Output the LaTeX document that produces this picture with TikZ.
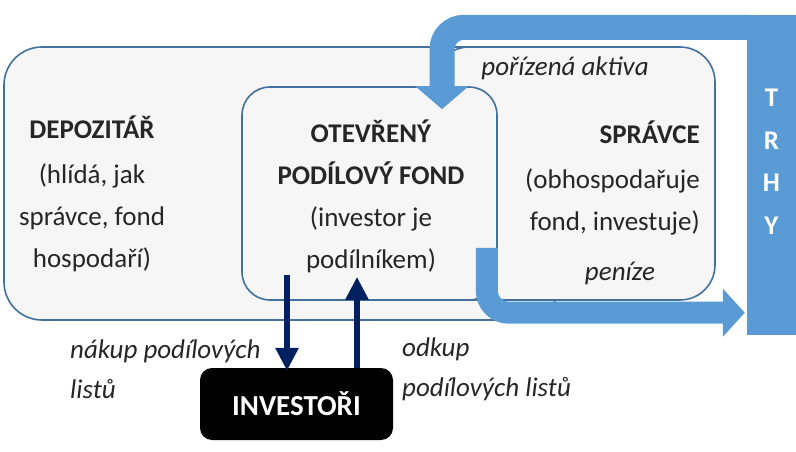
\documentclass[tikz,border=0pt]{standalone}
\usepackage{fontspec}
\setmainfont{Carlito}
\usetikzlibrary{arrows.meta,positioning,calc}
\definecolor{sky}{RGB}{91,155,213}
\definecolor{steel}{RGB}{65,113,156}
\definecolor{paper}{RGB}{246,246,246}
\definecolor{navy}{RGB}{0,32,96}
\definecolor{ink}{RGB}{38,38,38}
\tikzset{
  panel/.style={draw=steel,fill=paper,line width=1.6pt,rounded corners=#1,inner sep=0pt},
  panel/.default=35pt,
  txt/.style={font=\fontsize{27}{42}\selectfont,text=ink,align=center,inner sep=0pt},
  note/.style={font=\fontsize{27}{40}\selectfont\itshape,text=ink,align=left,inner sep=0pt},
  band/.style={draw=sky,line width=#1,rounded corners=22pt},
  trade/.style={draw=navy,line width=6pt,-{Triangle[width=22pt,length=23pt]}},
}
\begin{document}
\begin{tikzpicture}[x=1pt,y=1pt]
  \useasboundingbox (0,0) rectangle (796,451);
  \node[panel=38pt,minimum width=556pt,minimum height=273pt] (depozitar) at (282,267.5) {};
  \node[panel,minimum width=281pt,minimum height=253pt] (spravce) at (574.5,277.5) {};
  \node[panel=28pt,minimum width=255pt,minimum height=213pt] (fond) at (369.5,257.5) {};
  \node[fill=sky,minimum width=49pt,minimum height=320pt,inner sep=0pt] (trhy) at (771.5,276) {};
  \node[fill=black,rounded corners=12pt,minimum width=193pt,minimum height=72pt,text=white,
    font=\fontsize{29}{35}\selectfont\bfseries] (investori) at (296.5,47) {INVESTOŘI};

  \node[txt] (deptext) at (92,257.5) {\textbf{DEPOZITÁŘ}\\[3pt](hlídá, jak\\správce, fond\\hospodaří)};
  \node[txt] (fondtext) at (371,255) {\textbf{OTEVŘENÝ}\\\textbf{PODÍLOVÝ FOND}\\(investor je\\podílníkem)};
  \node[txt,align=right,anchor=east] (spravcetext) at (700,273) {\textbf{SPRÁVCE}\\[3pt](obhospodařuje\\fond, investuje)};
  \node[txt,text=white,font=\fontsize{27}{42.5}\selectfont\bfseries] (trhytext) at ($(trhy.center)+(0,13.5)$) {T\\R\\H\\Y};

  \node[note,align=center] (aktiva) at (565,383) {pořízená aktiva};
  \node[note,align=center] (penize) at (620,178) {peníze};
  \node[note,anchor=west] (nakup) at (70,82) {nákup podílových\\listů};
  \node[note,anchor=west] (odkup) at (402,82) {odkup\\podílových listů};

  \draw[band=25pt,-{Triangle[width=52pt,length=23pt]}] ($(trhy.north west)+(1,-12.5)$) -| ($(fond.north)+(72.5,-23)$);
  \draw[band=22pt,-{Triangle[width=47pt,length=22pt]}] ($(fond.south east)+(-11,53)$) |- ($(trhy.south west)+(-2,22.5)$);
  \draw[trade] ($(investori.north)+(-9.5,93)$) -- ($(investori.north)+(-9.5,-3)$);
  \draw[trade] ($(investori.north)+(60.5,0)$) -- ($(investori.north)+(60.5,91)$);
\end{tikzpicture}
\end{document}
